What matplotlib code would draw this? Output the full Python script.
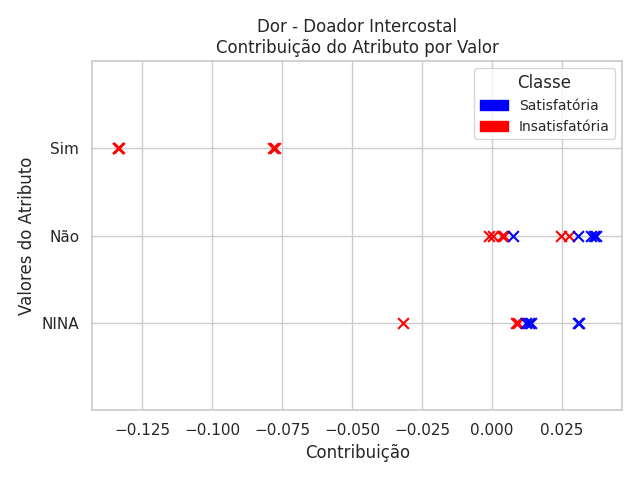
import matplotlib
matplotlib.use("Agg")
import matplotlib.pyplot as plt
import matplotlib.patches as mpatches
import seaborn as sns

sns.set_theme(style="whitegrid")

categories = ["NINA", "Não", "Sim"]

# (category, contribution) per class
sat_cat = ["Não", "Não", "Não", "Não", "Não",
           "NINA", "NINA", "NINA", "NINA", "NINA"]
sat_val = [0.0075, 0.0307, 0.0352, 0.0365, 0.0372,
           0.012, 0.013, 0.014, 0.0305, 0.031]

ins_cat = ["Sim", "Sim", "Sim", "Sim", "Sim",
           "Não", "Não", "Não", "Não", "Não", "Não",
           "NINA", "NINA", "NINA"]
ins_val = [-0.1338, -0.1333, -0.1336, -0.0785, -0.0775,
           -0.001, 0.0004, 0.0034, 0.0042, 0.0246, 0.0275,
           -0.032, 0.0085, 0.0092]

fig, ax = plt.subplots(figsize=(6.4, 4.8), dpi=100)
ypos = {c: i for i, c in enumerate(categories)}

ax.scatter(ins_val, [ypos[c] for c in ins_cat], marker="x", color="red", s=60, linewidths=1.5)
ax.scatter(sat_val, [ypos[c] for c in sat_cat], marker="x", color="blue", s=60, linewidths=1.5)

ax.set_yticks(range(len(categories)))
ax.set_yticklabels(categories)
ax.set_ylim(-1, 3)
ax.set_xlim(-0.1429, 0.0464)
ax.set_xlabel("Contribuição")
ax.set_ylabel("Valores do Atributo")
ax.set_title("Dor - Doador Intercostal\nContribuição do Atributo por Valor")

handles = [mpatches.Patch(color="blue", label="Satisfatória"),
           mpatches.Patch(color="red", label="Insatisfatória")]
ax.legend(handles=handles, title="Classe", loc="upper right", fontsize=10, title_fontsize=12)

fig.tight_layout()
fig.savefig("out.png", dpi=100)
